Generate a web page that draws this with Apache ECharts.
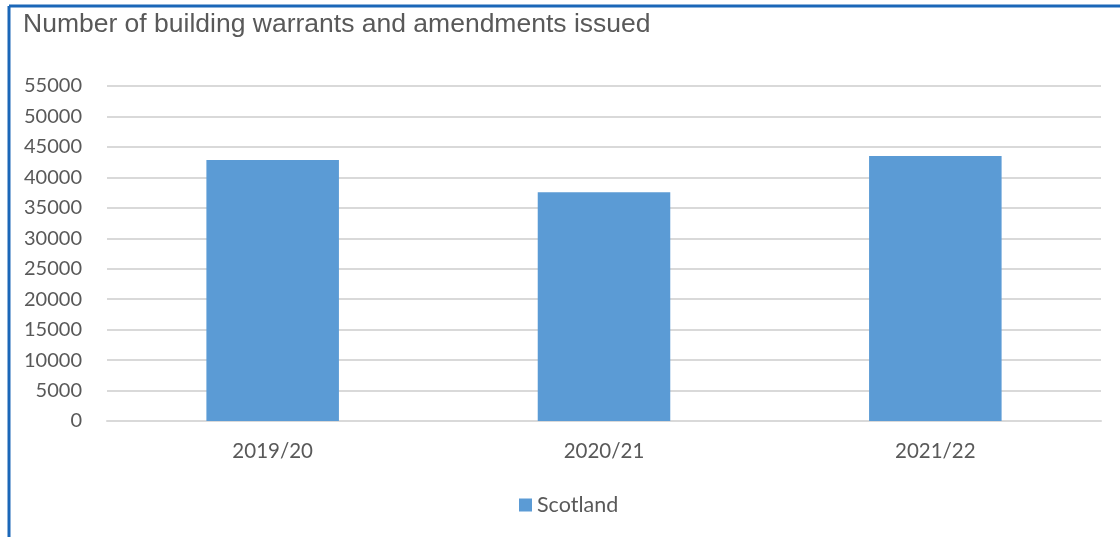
<!DOCTYPE html>
<html>
<head>
<meta charset="utf-8">
<script src="https://cdn.jsdelivr.net/npm/echarts@6/dist/echarts.min.js"></script>
<style>
html,body{margin:0;padding:0;background:#fff;}
#chart{width:1120px;height:537px;}
</style>
</head>
<body>
<div id="chart"></div>
<script>
const titleText = 'Number of building warrants and amendments issued';
const categories = ['2019/20', '2020/21', '2021/22'];
const seriesName = 'Scotland';
const values = [42850, 37550, 43500];
const yMin = 0, yMax = 55000, yStep = 5000;

const chart = echarts.init(document.getElementById('chart'));
chart.setOption({
  animation: false,
  backgroundColor: '#ffffff',
  title: {
    text: titleText,
    left: 18, top: 6,
    textStyle: {fontFamily: 'Liberation Sans', fontSize: 26.5, fontWeight: 'normal', color: '#595959'}
  },
  graphic: [
    {type: 'line', shape: {x1: 9, y1: 6, x2: 1120, y2: 6}, style: {stroke: '#1b67b8', lineWidth: 3}},
    {type: 'line', shape: {x1: 9, y1: 6, x2: 9, y2: 537}, style: {stroke: '#1b67b8', lineWidth: 3}}
  ],
  legend: {
    data: [seriesName],
    bottom: 16, left: 514,
    itemWidth: 13, itemHeight: 13, itemGap: 6,
    icon: 'rect',
    textStyle: {fontFamily: 'Lato', fontSize: 21.5, color: '#595959'}
  },
  grid: {left: 107, right: 19, top: 86, bottom: 116},
  xAxis: {
    type: 'category',
    data: categories,
    axisLine: {show: true, lineStyle: {color: '#d9d9d9', width: 2}},
    axisTick: {show: false},
    axisLabel: {fontFamily: 'Lato', fontSize: 20.5, color: '#595959', margin: 20}
  },
  yAxis: {
    type: 'value',
    min: yMin, max: yMax, interval: yStep,
    axisLine: {show: false},
    axisTick: {show: false},
    splitLine: {lineStyle: {color: '#d9d9d9', width: 2}},
    axisLabel: {fontFamily: 'Lato', fontSize: 20, color: '#595959', margin: 25,
      formatter: function (v) { return String(v); }}
  },
  series: [{
    name: seriesName,
    type: 'bar',
    data: values,
    barWidth: '40%',
    itemStyle: {color: '#5b9bd5'}
  }]
});
</script>
</body>
</html>
